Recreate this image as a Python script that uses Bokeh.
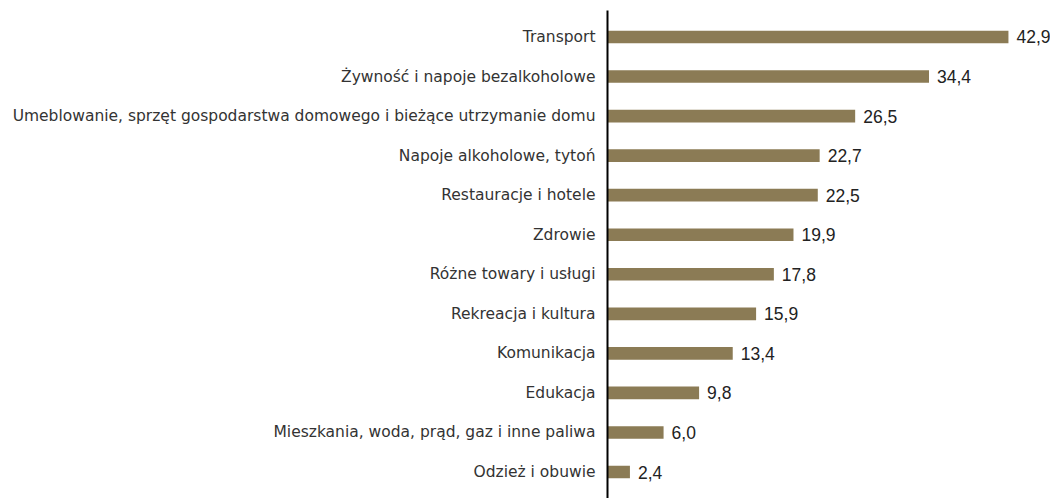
from bokeh.plotting import figure
from bokeh.models import ColumnDataSource, FactorRange, Range1d
from bokeh.core.properties import value
from bokeh.embed import file_html
from bokeh.resources import INLINE

categories = [
    "Transport",
    "Żywność i napoje bezalkoholowe",
    "Umeblowanie, sprzęt gospodarstwa domowego i bieżące utrzymanie domu",
    "Napoje alkoholowe, tytoń",
    "Restauracje i hotele",
    "Zdrowie",
    "Różne towary i usługi",
    "Rekreacja i kultura",
    "Komunikacja",
    "Edukacja",
    "Mieszkania, woda, prąd, gaz i inne paliwa",
    "Odzież i obuwie",
]
values = [42.9, 34.4, 26.5, 22.7, 22.5, 19.9, 17.8, 15.9, 13.4, 9.8, 6.0, 2.4]
labels = [f"{v:.1f}".replace(".", ",") for v in values]

src = ColumnDataSource(dict(cat=categories, val=values, lab=labels))

y_range = FactorRange(factors=list(reversed(categories)),
                      range_padding=0.17, range_padding_units="absolute")

p = figure(width=1050, height=498, y_range=y_range, x_range=Range1d(0, 47.4),
           output_backend="svg", toolbar_location=None,
           min_border_left=607, min_border_right=0,
           min_border_top=10, min_border_bottom=0)

p.hbar(y="cat", right="val", left=0, height=0.32, source=src,
       color="#8B7B55", line_color=None)

p.text(x="val", y="cat", text="lab", source=src, x_offset=8,
       text_baseline="middle", text_align="left",
       text_font=value("Liberation Sans"), text_font_size="17.5px",
       text_color="#222222")

p.xaxis.visible = False
p.xgrid.visible = False
p.ygrid.visible = False
p.outline_line_color = None

ya = p.yaxis[0]
ya.axis_line_color = "black"
ya.axis_line_width = 2
ya.major_tick_line_color = None
ya.minor_tick_line_color = None
ya.major_label_standoff = 6
ya.major_label_text_font = "DejaVu Sans"
ya.major_label_text_font_size = "15.5px"
ya.major_label_text_color = "#333333"

open("out.html", "w").write(file_html(p, INLINE))
